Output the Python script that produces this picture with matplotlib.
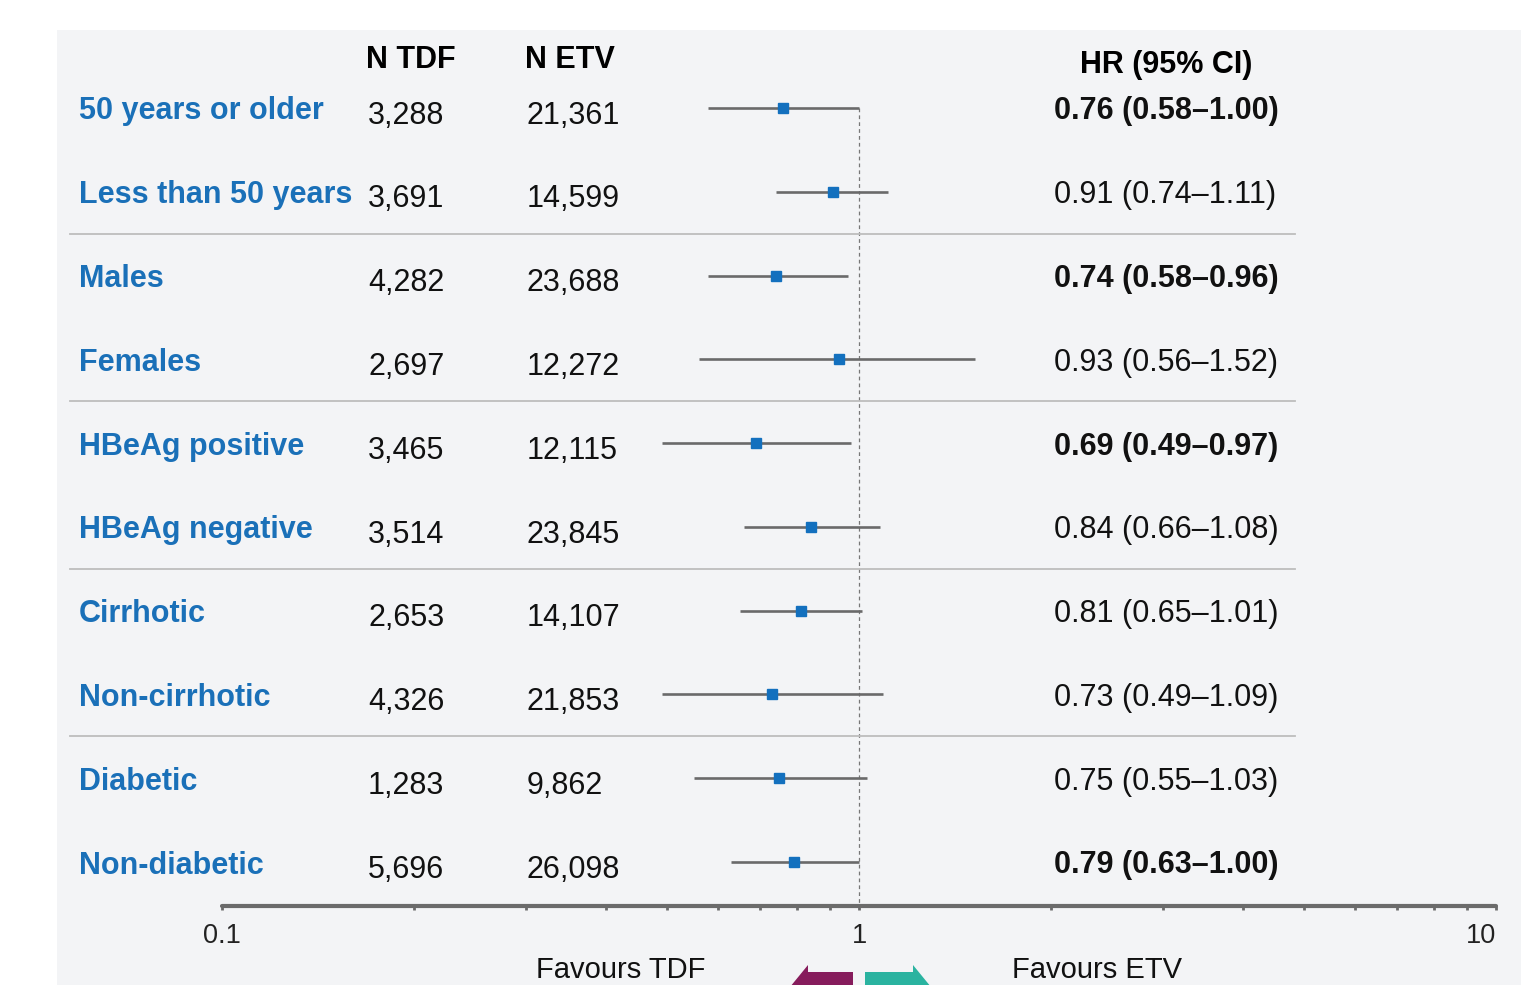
import matplotlib.pyplot as plt
from matplotlib.patches import Rectangle, Polygon
from matplotlib.transforms import blended_transform_factory
from matplotlib.ticker import FixedLocator, NullFormatter

plt.rcParams['font.family'] = ['Liberation Sans', 'DejaVu Sans']

# data
labels = ['50 years or older', 'Less than 50 years', 'Males', 'Females',
          'HBeAg positive', 'HBeAg negative', 'Cirrhotic', 'Non-cirrhotic',
          'Diabetic', 'Non-diabetic']
n_tdf = ['3,288', '3,691', '4,282', '2,697', '3,465', '3,514', '2,653', '4,326', '1,283', '5,696']
n_etv = ['21,361', '14,599', '23,688', '12,272', '12,115', '23,845', '14,107', '21,853', '9,862', '26,098']
hr = [0.76, 0.91, 0.74, 0.93, 0.69, 0.84, 0.81, 0.73, 0.75, 0.79]
ci_lo = [0.58, 0.74, 0.58, 0.56, 0.49, 0.66, 0.65, 0.49, 0.55, 0.63]
ci_hi = [1.00, 1.11, 0.96, 1.52, 0.97, 1.08, 1.01, 1.09, 1.03, 1.00]
significant = [True, False, True, False, True, False, False, False, False, True]
group_breaks = [1.5, 3.5, 5.5, 7.5]
tick_values = [0.1, 1, 10]
tick_labels = ['0.1', '1', '10']

W, H = 1540, 985
fig = plt.figure(figsize=(W / 100, H / 100), dpi=100)
fig.patch.set_facecolor('white')

def fx(px):
    return px / W

def fy(py):
    return 1 - py / H

# grey panel
fig.patches.append(Rectangle((fx(57), 0), fx(1521) - fx(57), fy(30), transform=fig.transFigure,
                             facecolor='#f3f4f6', edgecolor='none', zorder=-5))

# forest axes: 0.1 -> px 222, 10 -> px 1496, rows 0..9 -> px 108..862
row_step = (862 - 108) / 9
y_top = (30 - 108) / row_step
y_bot = (906 - 108) / row_step
ax = fig.add_axes([fx(222), fy(906), fx(1496) - fx(222), fy(30) - fy(906)])
ax.set_facecolor('none')
ax.set_xscale('log')
ax.set_xlim(0.1, 10)
ax.set_ylim(y_bot, y_top)

rows = list(range(len(labels)))
ax.plot([1, 1], [0, y_bot], color='#777777', lw=0.9, ls=(0, (3, 2.5)), zorder=1)
ax.hlines(rows, ci_lo, ci_hi, color='#6a6a6a', lw=1.9, zorder=2)
ax.plot(hr, rows, 's', color='#1370be', markersize=7.5, zorder=3)

for s in ['top', 'right', 'left']:
    ax.spines[s].set_visible(False)
ax.spines['bottom'].set_color('#6b6b6b')
ax.spines['bottom'].set_linewidth(3)
ax.spines['bottom'].set_capstyle('round')
ax.set_yticks([])
ax.xaxis.set_major_locator(FixedLocator(tick_values))
ax.set_xticklabels(tick_labels)
ax.xaxis.set_minor_locator(FixedLocator([0.2, 0.3, 0.4, 0.5, 0.6, 0.7, 0.8, 0.9,
                                         2, 3, 4, 5, 6, 7, 8, 9]))
ax.xaxis.set_minor_formatter(NullFormatter())
ax.tick_params(axis='x', which='both', length=3, width=2, color='#6b6b6b',
               labelsize=19.5, pad=9, labelcolor='#222222')
# the "10" label sits a little left of its tick in the original
ax.get_xticklabels()[-1].set_horizontalalignment('right')
ax.get_xticklabels()[-1].set_x(10)

# group separators
trans = blended_transform_factory(fig.transFigure, ax.transData)
for b in group_breaks:
    ax.plot([fx(70), fx(1295)], [b, b], transform=trans, color='#bdbdbd',
            lw=1.3, clip_on=False, zorder=1)

# text columns
for i in rows:
    ax.text(fx(79), i, labels[i], transform=trans, fontsize=22, fontweight='bold',
            color='#1a70b8', va='center_baseline', ha='left')
    ax.text(fx(368), i + 0.05, n_tdf[i], transform=trans, fontsize=22,
            color='#111111', va='center_baseline', ha='left')
    ax.text(fx(527), i + 0.05, n_etv[i], transform=trans, fontsize=22,
            color='#111111', va='center_baseline', ha='left')
    txt = f'{hr[i]:.2f} ({ci_lo[i]:.2f}\u2013{ci_hi[i]:.2f})'
    ax.text(fx(1054), i, txt, transform=trans, fontsize=22,
            fontweight='bold' if significant[i] else 'normal',
            color='#111111', va='center_baseline', ha='left')

# headers
fig.text(fx(366), fy(57), 'N TDF', fontsize=22, fontweight='bold', va='center_baseline', ha='left')
fig.text(fx(525), fy(57), 'N ETV', fontsize=22, fontweight='bold', va='center_baseline', ha='left')
fig.text(fx(1080), fy(62), 'HR (95% CI)', fontsize=22, fontweight='bold', va='center_baseline', ha='left')

# favours labels and arrows
fig.text(fx(621), fy(978), 'Favours TDF', fontsize=21, va='baseline', ha='center', color='#111111')
fig.text(fx(1097), fy(978), 'Favours ETV', fontsize=21, va='baseline', ha='center', color='#111111')

yc = 987
left_arrow = [(790, yc), (808, yc - 22), (808, yc - 15), (853, yc - 15),
              (853, yc + 15), (808, yc + 15), (808, yc + 22)]
right_arrow = [(931, yc), (913, yc - 22), (913, yc - 15), (865, yc - 15),
               (865, yc + 15), (913, yc + 15), (913, yc + 22)]
for pts, col in [(left_arrow, '#861c5c'), (right_arrow, '#2ab3a0')]:
    fig.patches.append(Polygon([(fx(x), fy(y)) for x, y in pts], closed=True,
                               transform=fig.transFigure, facecolor=col,
                               edgecolor='none', zorder=2))

fig.savefig('out.png', dpi=100)
